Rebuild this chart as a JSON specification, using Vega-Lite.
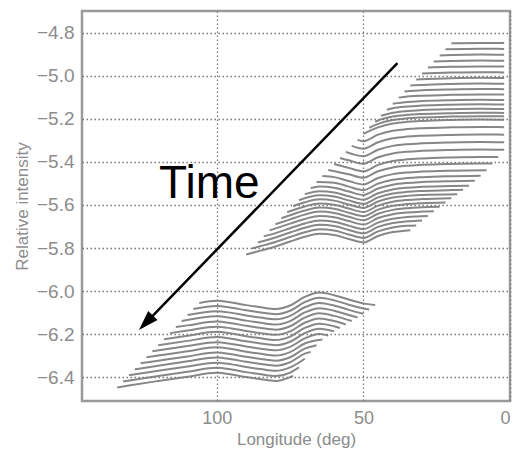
{
"$schema": "https://vega.github.io/schema/vega-lite/v6.json",
"width": 428, "height": 390,
"autosize": {"type": "none"},
"padding": {"left": 82, "top": 11, "right": 3, "bottom": 59},
"background": "white",
"config": {"view": {"stroke": "#9a9a9a", "strokeWidth": 2.5}, "font": "Liberation Sans"},
"datasets": {
"traces": [
{"id":"a0","lon":20,"val":-4.850},{"id":"a0","lon":10,"val":-4.848},{"id":"a0","lon":2,"val":-4.849},
{"id":"a1","lon":22,"val":-4.878},{"id":"a1","lon":10,"val":-4.875},{"id":"a1","lon":2,"val":-4.876},
{"id":"a2","lon":24,"val":-4.906},{"id":"a2","lon":20,"val":-4.904},{"id":"a2","lon":10,"val":-4.902},{"id":"a2","lon":2,"val":-4.903},
{"id":"a3","lon":26,"val":-4.934},{"id":"a3","lon":20,"val":-4.932},{"id":"a3","lon":10,"val":-4.930},{"id":"a3","lon":2,"val":-4.931},
{"id":"a4","lon":28,"val":-4.962},{"id":"a4","lon":20,"val":-4.959},{"id":"a4","lon":10,"val":-4.957},{"id":"a4","lon":2,"val":-4.958},
{"id":"a5","lon":30,"val":-4.990},{"id":"a5","lon":20,"val":-4.986},{"id":"a5","lon":10,"val":-4.984},{"id":"a5","lon":2,"val":-4.985},
{"id":"a6","lon":32,"val":-5.018},{"id":"a6","lon":20,"val":-5.012},{"id":"a6","lon":10,"val":-5.010},{"id":"a6","lon":2,"val":-5.011},
{"id":"a7","lon":34,"val":-5.046},{"id":"a7","lon":30,"val":-5.043},{"id":"a7","lon":20,"val":-5.039},{"id":"a7","lon":10,"val":-5.037},{"id":"a7","lon":2,"val":-5.038},
{"id":"a8","lon":36,"val":-5.074},{"id":"a8","lon":30,"val":-5.068},{"id":"a8","lon":20,"val":-5.064},{"id":"a8","lon":10,"val":-5.062},{"id":"a8","lon":2,"val":-5.063},
{"id":"a9","lon":38,"val":-5.102},{"id":"a9","lon":35,"val":-5.097},{"id":"a9","lon":30,"val":-5.093},{"id":"a9","lon":20,"val":-5.089},{"id":"a9","lon":10,"val":-5.087},{"id":"a9","lon":2,"val":-5.088},
{"id":"a10","lon":40,"val":-5.130},{"id":"a10","lon":35,"val":-5.122},{"id":"a10","lon":30,"val":-5.118},{"id":"a10","lon":20,"val":-5.114},{"id":"a10","lon":10,"val":-5.112},{"id":"a10","lon":2,"val":-5.113},
{"id":"a11","lon":42,"val":-5.158},{"id":"a11","lon":40,"val":-5.151},{"id":"a11","lon":35,"val":-5.143},{"id":"a11","lon":30,"val":-5.139},{"id":"a11","lon":20,"val":-5.135},{"id":"a11","lon":10,"val":-5.133},{"id":"a11","lon":2,"val":-5.134},
{"id":"a12","lon":44,"val":-5.186},{"id":"a12","lon":40,"val":-5.172},{"id":"a12","lon":35,"val":-5.164},{"id":"a12","lon":30,"val":-5.160},{"id":"a12","lon":20,"val":-5.156},{"id":"a12","lon":10,"val":-5.154},{"id":"a12","lon":2,"val":-5.155},
{"id":"a13","lon":46,"val":-5.214},{"id":"a13","lon":45,"val":-5.208},{"id":"a13","lon":40,"val":-5.190},{"id":"a13","lon":35,"val":-5.182},{"id":"a13","lon":30,"val":-5.178},{"id":"a13","lon":20,"val":-5.174},{"id":"a13","lon":10,"val":-5.172},{"id":"a13","lon":2,"val":-5.173},
{"id":"a14","lon":48,"val":-5.242},{"id":"a14","lon":45,"val":-5.224},{"id":"a14","lon":40,"val":-5.206},{"id":"a14","lon":35,"val":-5.198},{"id":"a14","lon":30,"val":-5.194},{"id":"a14","lon":20,"val":-5.190},{"id":"a14","lon":10,"val":-5.188},{"id":"a14","lon":2,"val":-5.189},
{"id":"a15","lon":50,"val":-5.270},{"id":"a15","lon":45,"val":-5.240},{"id":"a15","lon":40,"val":-5.222},{"id":"a15","lon":35,"val":-5.214},{"id":"a15","lon":30,"val":-5.210},{"id":"a15","lon":20,"val":-5.206},{"id":"a15","lon":10,"val":-5.204},{"id":"a15","lon":2,"val":-5.205},
{"id":"a16","lon":52,"val":-5.298},{"id":"a16","lon":50,"val":-5.304},{"id":"a16","lon":45,"val":-5.274},{"id":"a16","lon":40,"val":-5.256},{"id":"a16","lon":35,"val":-5.248},{"id":"a16","lon":30,"val":-5.244},{"id":"a16","lon":20,"val":-5.240},{"id":"a16","lon":10,"val":-5.238},{"id":"a16","lon":2,"val":-5.239},
{"id":"a17","lon":54,"val":-5.326},{"id":"a17","lon":50,"val":-5.339},{"id":"a17","lon":45,"val":-5.309},{"id":"a17","lon":40,"val":-5.291},{"id":"a17","lon":35,"val":-5.283},{"id":"a17","lon":30,"val":-5.279},{"id":"a17","lon":20,"val":-5.275},{"id":"a17","lon":10,"val":-5.273},{"id":"a17","lon":2,"val":-5.274},
{"id":"a18","lon":56,"val":-5.354},{"id":"a18","lon":50,"val":-5.374},{"id":"a18","lon":45,"val":-5.344},{"id":"a18","lon":40,"val":-5.326},{"id":"a18","lon":35,"val":-5.318},{"id":"a18","lon":30,"val":-5.314},{"id":"a18","lon":20,"val":-5.310},{"id":"a18","lon":10,"val":-5.308},{"id":"a18","lon":2,"val":-5.309},
{"id":"a19","lon":58,"val":-5.382},{"id":"a19","lon":55,"val":-5.393},{"id":"a19","lon":50,"val":-5.409},{"id":"a19","lon":45,"val":-5.379},{"id":"a19","lon":40,"val":-5.361},{"id":"a19","lon":35,"val":-5.353},{"id":"a19","lon":30,"val":-5.349},{"id":"a19","lon":20,"val":-5.345},{"id":"a19","lon":10,"val":-5.343},{"id":"a19","lon":2,"val":-5.344},
{"id":"a20","lon":60,"val":-5.410},{"id":"a20","lon":55,"val":-5.428},{"id":"a20","lon":50,"val":-5.444},{"id":"a20","lon":45,"val":-5.414},{"id":"a20","lon":40,"val":-5.396},{"id":"a20","lon":35,"val":-5.388},{"id":"a20","lon":30,"val":-5.384},{"id":"a20","lon":20,"val":-5.380},{"id":"a20","lon":10,"val":-5.378},{"id":"a20","lon":4,"val":-5.378},
{"id":"a21","lon":62,"val":-5.438},{"id":"a21","lon":55,"val":-5.458},{"id":"a21","lon":50,"val":-5.474},{"id":"a21","lon":45,"val":-5.444},{"id":"a21","lon":40,"val":-5.426},{"id":"a21","lon":35,"val":-5.418},{"id":"a21","lon":30,"val":-5.414},{"id":"a21","lon":20,"val":-5.410},{"id":"a21","lon":10,"val":-5.408},{"id":"a21","lon":6,"val":-5.408},
{"id":"a22","lon":64,"val":-5.466},{"id":"a22","lon":60,"val":-5.471},{"id":"a22","lon":55,"val":-5.489},{"id":"a22","lon":50,"val":-5.505},{"id":"a22","lon":45,"val":-5.475},{"id":"a22","lon":40,"val":-5.457},{"id":"a22","lon":35,"val":-5.449},{"id":"a22","lon":30,"val":-5.445},{"id":"a22","lon":20,"val":-5.441},{"id":"a22","lon":8,"val":-5.439},
{"id":"a23","lon":66,"val":-5.494},{"id":"a23","lon":60,"val":-5.497},{"id":"a23","lon":55,"val":-5.515},{"id":"a23","lon":50,"val":-5.531},{"id":"a23","lon":45,"val":-5.501},{"id":"a23","lon":40,"val":-5.483},{"id":"a23","lon":35,"val":-5.475},{"id":"a23","lon":30,"val":-5.471},{"id":"a23","lon":20,"val":-5.467},{"id":"a23","lon":10,"val":-5.465},
{"id":"a24","lon":68,"val":-5.522},{"id":"a24","lon":65,"val":-5.514},{"id":"a24","lon":60,"val":-5.520},{"id":"a24","lon":55,"val":-5.538},{"id":"a24","lon":50,"val":-5.554},{"id":"a24","lon":45,"val":-5.524},{"id":"a24","lon":40,"val":-5.506},{"id":"a24","lon":35,"val":-5.498},{"id":"a24","lon":30,"val":-5.494},{"id":"a24","lon":20,"val":-5.490},{"id":"a24","lon":12,"val":-5.488},
{"id":"a25","lon":70,"val":-5.550},{"id":"a25","lon":65,"val":-5.536},{"id":"a25","lon":60,"val":-5.542},{"id":"a25","lon":55,"val":-5.560},{"id":"a25","lon":50,"val":-5.576},{"id":"a25","lon":45,"val":-5.546},{"id":"a25","lon":40,"val":-5.528},{"id":"a25","lon":35,"val":-5.520},{"id":"a25","lon":30,"val":-5.516},{"id":"a25","lon":20,"val":-5.512},{"id":"a25","lon":14,"val":-5.511},
{"id":"a26","lon":72,"val":-5.578},{"id":"a26","lon":65,"val":-5.555},{"id":"a26","lon":60,"val":-5.561},{"id":"a26","lon":55,"val":-5.579},{"id":"a26","lon":50,"val":-5.595},{"id":"a26","lon":45,"val":-5.565},{"id":"a26","lon":40,"val":-5.547},{"id":"a26","lon":35,"val":-5.539},{"id":"a26","lon":30,"val":-5.535},{"id":"a26","lon":20,"val":-5.531},{"id":"a26","lon":16,"val":-5.530},
{"id":"a27","lon":74,"val":-5.606},{"id":"a27","lon":70,"val":-5.588},{"id":"a27","lon":65,"val":-5.574},{"id":"a27","lon":60,"val":-5.580},{"id":"a27","lon":55,"val":-5.598},{"id":"a27","lon":50,"val":-5.614},{"id":"a27","lon":45,"val":-5.584},{"id":"a27","lon":40,"val":-5.566},{"id":"a27","lon":35,"val":-5.558},{"id":"a27","lon":30,"val":-5.554},{"id":"a27","lon":18,"val":-5.550},
{"id":"a28","lon":76,"val":-5.634},{"id":"a28","lon":70,"val":-5.607},{"id":"a28","lon":65,"val":-5.593},{"id":"a28","lon":60,"val":-5.599},{"id":"a28","lon":55,"val":-5.617},{"id":"a28","lon":50,"val":-5.633},{"id":"a28","lon":45,"val":-5.603},{"id":"a28","lon":40,"val":-5.585},{"id":"a28","lon":35,"val":-5.577},{"id":"a28","lon":30,"val":-5.573},{"id":"a28","lon":20,"val":-5.569},
{"id":"a29","lon":78,"val":-5.662},{"id":"a29","lon":75,"val":-5.648},{"id":"a29","lon":70,"val":-5.626},{"id":"a29","lon":65,"val":-5.612},{"id":"a29","lon":60,"val":-5.618},{"id":"a29","lon":55,"val":-5.636},{"id":"a29","lon":50,"val":-5.652},{"id":"a29","lon":45,"val":-5.622},{"id":"a29","lon":40,"val":-5.604},{"id":"a29","lon":35,"val":-5.596},{"id":"a29","lon":30,"val":-5.592},{"id":"a29","lon":22,"val":-5.589},
{"id":"a30","lon":80,"val":-5.690},{"id":"a30","lon":75,"val":-5.667},{"id":"a30","lon":70,"val":-5.645},{"id":"a30","lon":65,"val":-5.631},{"id":"a30","lon":60,"val":-5.637},{"id":"a30","lon":55,"val":-5.655},{"id":"a30","lon":50,"val":-5.671},{"id":"a30","lon":45,"val":-5.641},{"id":"a30","lon":40,"val":-5.623},{"id":"a30","lon":35,"val":-5.615},{"id":"a30","lon":30,"val":-5.611},{"id":"a30","lon":24,"val":-5.609},
{"id":"a31","lon":82,"val":-5.718},{"id":"a31","lon":75,"val":-5.687},{"id":"a31","lon":70,"val":-5.665},{"id":"a31","lon":65,"val":-5.651},{"id":"a31","lon":60,"val":-5.657},{"id":"a31","lon":55,"val":-5.675},{"id":"a31","lon":50,"val":-5.691},{"id":"a31","lon":45,"val":-5.661},{"id":"a31","lon":40,"val":-5.643},{"id":"a31","lon":35,"val":-5.635},{"id":"a31","lon":30,"val":-5.631},{"id":"a31","lon":26,"val":-5.629},
{"id":"a32","lon":84,"val":-5.746},{"id":"a32","lon":80,"val":-5.731},{"id":"a32","lon":75,"val":-5.708},{"id":"a32","lon":70,"val":-5.686},{"id":"a32","lon":65,"val":-5.672},{"id":"a32","lon":60,"val":-5.678},{"id":"a32","lon":55,"val":-5.696},{"id":"a32","lon":50,"val":-5.712},{"id":"a32","lon":45,"val":-5.682},{"id":"a32","lon":40,"val":-5.664},{"id":"a32","lon":35,"val":-5.656},{"id":"a32","lon":28,"val":-5.651},
{"id":"a33","lon":86,"val":-5.774},{"id":"a33","lon":80,"val":-5.751},{"id":"a33","lon":75,"val":-5.728},{"id":"a33","lon":70,"val":-5.706},{"id":"a33","lon":65,"val":-5.692},{"id":"a33","lon":60,"val":-5.698},{"id":"a33","lon":55,"val":-5.716},{"id":"a33","lon":50,"val":-5.732},{"id":"a33","lon":45,"val":-5.702},{"id":"a33","lon":40,"val":-5.684},{"id":"a33","lon":35,"val":-5.676},{"id":"a33","lon":30,"val":-5.672},
{"id":"a34","lon":88,"val":-5.802},{"id":"a34","lon":85,"val":-5.791},{"id":"a34","lon":80,"val":-5.772},{"id":"a34","lon":75,"val":-5.749},{"id":"a34","lon":70,"val":-5.727},{"id":"a34","lon":65,"val":-5.713},{"id":"a34","lon":60,"val":-5.719},{"id":"a34","lon":55,"val":-5.737},{"id":"a34","lon":50,"val":-5.753},{"id":"a34","lon":45,"val":-5.723},{"id":"a34","lon":40,"val":-5.705},{"id":"a34","lon":35,"val":-5.697},{"id":"a34","lon":32,"val":-5.695},
{"id":"a35","lon":90,"val":-5.830},{"id":"a35","lon":85,"val":-5.812},{"id":"a35","lon":80,"val":-5.793},{"id":"a35","lon":75,"val":-5.770},{"id":"a35","lon":70,"val":-5.748},{"id":"a35","lon":65,"val":-5.734},{"id":"a35","lon":60,"val":-5.740},{"id":"a35","lon":55,"val":-5.758},{"id":"a35","lon":50,"val":-5.774},{"id":"a35","lon":45,"val":-5.744},{"id":"a35","lon":40,"val":-5.726},{"id":"a35","lon":34,"val":-5.717},
{"id":"b0","lon":106,"val":-6.055},{"id":"b0","lon":100,"val":-6.045},{"id":"b0","lon":95,"val":-6.053},{"id":"b0","lon":90,"val":-6.065},{"id":"b0","lon":85,"val":-6.075},{"id":"b0","lon":80,"val":-6.083},{"id":"b0","lon":75,"val":-6.067},{"id":"b0","lon":70,"val":-6.027},{"id":"b0","lon":65,"val":-6.007},{"id":"b0","lon":60,"val":-6.019},{"id":"b0","lon":55,"val":-6.039},{"id":"b0","lon":50,"val":-6.057},{"id":"b0","lon":46,"val":-6.065},
{"id":"b1","lon":108,"val":-6.083},{"id":"b1","lon":100,"val":-6.069},{"id":"b1","lon":95,"val":-6.077},{"id":"b1","lon":90,"val":-6.089},{"id":"b1","lon":85,"val":-6.099},{"id":"b1","lon":80,"val":-6.107},{"id":"b1","lon":75,"val":-6.091},{"id":"b1","lon":70,"val":-6.051},{"id":"b1","lon":65,"val":-6.031},{"id":"b1","lon":60,"val":-6.043},{"id":"b1","lon":55,"val":-6.063},{"id":"b1","lon":50,"val":-6.081},{"id":"b1","lon":48,"val":-6.085},
{"id":"b2","lon":110,"val":-6.111},{"id":"b2","lon":100,"val":-6.093},{"id":"b2","lon":95,"val":-6.101},{"id":"b2","lon":90,"val":-6.113},{"id":"b2","lon":85,"val":-6.123},{"id":"b2","lon":80,"val":-6.131},{"id":"b2","lon":75,"val":-6.115},{"id":"b2","lon":70,"val":-6.075},{"id":"b2","lon":65,"val":-6.055},{"id":"b2","lon":60,"val":-6.067},{"id":"b2","lon":55,"val":-6.087},{"id":"b2","lon":50,"val":-6.105},
{"id":"b3","lon":112,"val":-6.139},{"id":"b3","lon":100,"val":-6.117},{"id":"b3","lon":95,"val":-6.125},{"id":"b3","lon":90,"val":-6.137},{"id":"b3","lon":85,"val":-6.147},{"id":"b3","lon":80,"val":-6.155},{"id":"b3","lon":75,"val":-6.139},{"id":"b3","lon":70,"val":-6.099},{"id":"b3","lon":65,"val":-6.079},{"id":"b3","lon":60,"val":-6.091},{"id":"b3","lon":55,"val":-6.111},{"id":"b3","lon":52,"val":-6.122},
{"id":"b4","lon":114,"val":-6.167},{"id":"b4","lon":110,"val":-6.159},{"id":"b4","lon":100,"val":-6.141},{"id":"b4","lon":95,"val":-6.149},{"id":"b4","lon":90,"val":-6.161},{"id":"b4","lon":85,"val":-6.171},{"id":"b4","lon":80,"val":-6.179},{"id":"b4","lon":75,"val":-6.163},{"id":"b4","lon":70,"val":-6.123},{"id":"b4","lon":65,"val":-6.103},{"id":"b4","lon":60,"val":-6.115},{"id":"b4","lon":54,"val":-6.139},
{"id":"b5","lon":116,"val":-6.195},{"id":"b5","lon":110,"val":-6.183},{"id":"b5","lon":100,"val":-6.165},{"id":"b5","lon":95,"val":-6.173},{"id":"b5","lon":90,"val":-6.185},{"id":"b5","lon":85,"val":-6.195},{"id":"b5","lon":80,"val":-6.203},{"id":"b5","lon":75,"val":-6.187},{"id":"b5","lon":70,"val":-6.147},{"id":"b5","lon":65,"val":-6.127},{"id":"b5","lon":60,"val":-6.139},{"id":"b5","lon":56,"val":-6.155},
{"id":"b6","lon":118,"val":-6.223},{"id":"b6","lon":110,"val":-6.207},{"id":"b6","lon":100,"val":-6.189},{"id":"b6","lon":95,"val":-6.197},{"id":"b6","lon":90,"val":-6.209},{"id":"b6","lon":85,"val":-6.219},{"id":"b6","lon":80,"val":-6.227},{"id":"b6","lon":75,"val":-6.211},{"id":"b6","lon":70,"val":-6.171},{"id":"b6","lon":65,"val":-6.151},{"id":"b6","lon":60,"val":-6.163},{"id":"b6","lon":58,"val":-6.171},
{"id":"b7","lon":120,"val":-6.251},{"id":"b7","lon":110,"val":-6.231},{"id":"b7","lon":100,"val":-6.213},{"id":"b7","lon":95,"val":-6.221},{"id":"b7","lon":90,"val":-6.233},{"id":"b7","lon":85,"val":-6.243},{"id":"b7","lon":80,"val":-6.251},{"id":"b7","lon":75,"val":-6.235},{"id":"b7","lon":70,"val":-6.195},{"id":"b7","lon":65,"val":-6.175},{"id":"b7","lon":60,"val":-6.187},
{"id":"b8","lon":122,"val":-6.279},{"id":"b8","lon":110,"val":-6.255},{"id":"b8","lon":100,"val":-6.237},{"id":"b8","lon":95,"val":-6.245},{"id":"b8","lon":90,"val":-6.257},{"id":"b8","lon":85,"val":-6.267},{"id":"b8","lon":80,"val":-6.275},{"id":"b8","lon":75,"val":-6.259},{"id":"b8","lon":70,"val":-6.219},{"id":"b8","lon":65,"val":-6.199},{"id":"b8","lon":62,"val":-6.206},
{"id":"b9","lon":124,"val":-6.307},{"id":"b9","lon":120,"val":-6.299},{"id":"b9","lon":110,"val":-6.279},{"id":"b9","lon":100,"val":-6.261},{"id":"b9","lon":95,"val":-6.269},{"id":"b9","lon":90,"val":-6.281},{"id":"b9","lon":85,"val":-6.291},{"id":"b9","lon":80,"val":-6.299},{"id":"b9","lon":75,"val":-6.283},{"id":"b9","lon":70,"val":-6.243},{"id":"b9","lon":64,"val":-6.225},
{"id":"b10","lon":126,"val":-6.335},{"id":"b10","lon":120,"val":-6.323},{"id":"b10","lon":110,"val":-6.303},{"id":"b10","lon":100,"val":-6.285},{"id":"b10","lon":95,"val":-6.293},{"id":"b10","lon":90,"val":-6.305},{"id":"b10","lon":85,"val":-6.315},{"id":"b10","lon":80,"val":-6.323},{"id":"b10","lon":75,"val":-6.307},{"id":"b10","lon":70,"val":-6.267},{"id":"b10","lon":66,"val":-6.251},
{"id":"b11","lon":128,"val":-6.363},{"id":"b11","lon":120,"val":-6.346},{"id":"b11","lon":110,"val":-6.326},{"id":"b11","lon":100,"val":-6.308},{"id":"b11","lon":95,"val":-6.316},{"id":"b11","lon":90,"val":-6.328},{"id":"b11","lon":85,"val":-6.338},{"id":"b11","lon":80,"val":-6.346},{"id":"b11","lon":75,"val":-6.330},{"id":"b11","lon":70,"val":-6.290},{"id":"b11","lon":68,"val":-6.282},
{"id":"b12","lon":130,"val":-6.391},{"id":"b12","lon":120,"val":-6.370},{"id":"b12","lon":110,"val":-6.350},{"id":"b12","lon":100,"val":-6.332},{"id":"b12","lon":95,"val":-6.340},{"id":"b12","lon":90,"val":-6.352},{"id":"b12","lon":85,"val":-6.362},{"id":"b12","lon":80,"val":-6.370},{"id":"b12","lon":75,"val":-6.354},{"id":"b12","lon":70,"val":-6.314},
{"id":"b13","lon":132,"val":-6.419},{"id":"b13","lon":120,"val":-6.394},{"id":"b13","lon":110,"val":-6.374},{"id":"b13","lon":100,"val":-6.356},{"id":"b13","lon":95,"val":-6.364},{"id":"b13","lon":90,"val":-6.376},{"id":"b13","lon":85,"val":-6.386},{"id":"b13","lon":80,"val":-6.394},{"id":"b13","lon":75,"val":-6.378},{"id":"b13","lon":72,"val":-6.354},
{"id":"b14","lon":134,"val":-6.447},{"id":"b14","lon":130,"val":-6.438},{"id":"b14","lon":120,"val":-6.417},{"id":"b14","lon":110,"val":-6.397},{"id":"b14","lon":100,"val":-6.379},{"id":"b14","lon":95,"val":-6.387},{"id":"b14","lon":90,"val":-6.399},{"id":"b14","lon":85,"val":-6.409},{"id":"b14","lon":80,"val":-6.417},{"id":"b14","lon":74,"val":-6.393}
],
"arrow": [{"lon": 38.4, "val": -4.942, "lon2": 124.2, "val2": -6.147}],
"head": [{"lon": 124.2, "val": -6.147}],
"label": [{"lon": 119.7, "val": -5.569, "text": "Time"}]
},
"layer": [
{
"data": {"name": "traces"},
"mark": {"type": "line", "interpolate": "monotone", "color": "#7a7a7a", "strokeWidth": 2, "opacity": 0.9},
"encoding": {
"x": {"field": "lon", "type": "quantitative",
"scale": {"domain": [146, 0], "nice": false, "zero": false},
"axis": {"values": [100, 50, 0], "title": "Longitude (deg)", "grid": true, "gridDash": [1.5, 2.5], "gridColor": "#7a7a7a", "gridWidth": 1.3,
"domain": false, "tickSize": 0, "labelPadding": 8, "labelFontSize": 18, "labelColor": "#8c8c8c", "labelFont": "Liberation Sans",
"titleFontSize": 17, "titleFontWeight": "normal", "titleColor": "#8c8c8c", "titlePadding": 4, "titleFont": "Liberation Sans", "labelFlush": true}},
"y": {"field": "val", "type": "quantitative",
"scale": {"domain": [-6.51, -4.70], "nice": false, "zero": false},
"axis": {"values": [-6.4, -6.2, -6, -5.8, -5.6, -5.4, -5.2, -5, -4.8], "title": "Relative intensity", "grid": true, "gridDash": [1.5, 2.5], "gridColor": "#7a7a7a", "gridWidth": 1.3,
"domain": false, "tickSize": 0, "labelPadding": 8, "labelFontSize": 19, "labelColor": "#8c8c8c", "labelFont": "Liberation Sans",
"titleFontSize": 17, "titleFontWeight": "normal", "titleColor": "#8c8c8c", "titlePadding": 5, "titleFont": "Liberation Sans"}},
"detail": {"field": "id", "type": "nominal"}
}
},
{
"data": {"name": "arrow"},
"mark": {"type": "rule", "color": "black", "strokeWidth": 2.5},
"encoding": {
"x": {"field": "lon", "type": "quantitative"},
"y": {"field": "val", "type": "quantitative"},
"x2": {"field": "lon2"},
"y2": {"field": "val2"}
}
},
{
"data": {"name": "head"},
"mark": {"type": "point", "shape": "M0,-1L-0.65,1L0.65,1Z", "filled": true, "color": "black", "opacity": 1, "size": 400, "angle": 224},
"encoding": {
"x": {"field": "lon", "type": "quantitative"},
"y": {"field": "val", "type": "quantitative"}
}
},
{
"data": {"name": "label"},
"mark": {"type": "text", "font": "Liberation Sans", "fontSize": 46, "align": "left", "baseline": "alphabetic", "color": "black"},
"encoding": {
"x": {"field": "lon", "type": "quantitative"},
"y": {"field": "val", "type": "quantitative"},
"text": {"field": "text", "type": "nominal"}
}
}
]
}
